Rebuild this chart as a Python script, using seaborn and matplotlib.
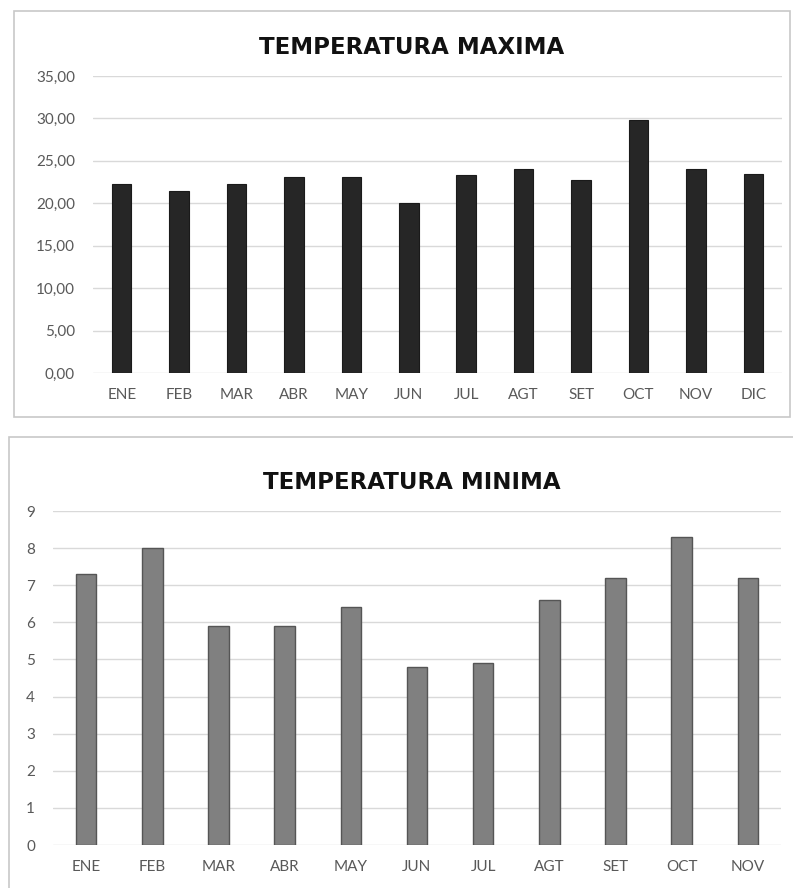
import matplotlib
matplotlib.use("Agg")
import matplotlib.pyplot as plt
import matplotlib.patches as patches
from matplotlib.ticker import FuncFormatter
import seaborn as sns
import pandas as pd

# Datos
meses_max = ['ENE', 'FEB', 'MAR', 'ABR', 'MAY', 'JUN', 'JUL', 'AGT', 'SET', 'OCT', 'NOV', 'DIC']
temp_max = [22.3, 21.4, 22.3, 23.1, 23.1, 20.0, 23.3, 24.0, 22.7, 29.8, 24.0, 23.4]

meses_min = ['ENE', 'FEB', 'MAR', 'ABR', 'MAY', 'JUN', 'JUL', 'AGT', 'SET', 'OCT', 'NOV']
temp_min = [7.3, 8.0, 5.9, 5.9, 6.4, 4.8, 4.9, 6.6, 7.2, 8.3, 7.2]

sns.set_theme(style="white")
plt.rcParams['font.family'] = ['Lato', 'DejaVu Sans']

W, H = 793, 888
fig = plt.figure(figsize=(W / 100, H / 100), dpi=100)
fig.patch.set_facecolor('white')

def fx(px):
    return px / W

def fy(py):
    return 1 - py / H

# marcos de cada grafico
for (x0, y0, x1, y1) in [(14, 11, 790, 417), (9, 437, 800, 900)]:
    fig.patches.append(patches.Rectangle((fx(x0), fy(y1)), fx(x1 - x0), (y1 - y0) / H,
                                         transform=fig.transFigure, fill=False,
                                         edgecolor='#c8c8c8', linewidth=1.2))

grid_col = '#d9d9d9'
tick_col = '#595959'


def estilo(ax, title, ty):
    ax.set_facecolor('none')
    for s in ax.spines.values():
        s.set_visible(False)
    ax.yaxis.grid(True, color=grid_col, linewidth=1)
    ax.set_axisbelow(True)
    ax.set_xlabel('')
    ax.set_ylabel('')
    ax.tick_params(axis='both', length=0, labelsize=11, colors=tick_col)
    ax.tick_params(axis='x', pad=11)
    ax.tick_params(axis='y', pad=13)
    fig.text(fx(412), fy(ty), title, ha='center', va='center', fontsize=16.5,
             fontweight='heavy', family='DejaVu Sans', color='#111111')


# TEMPERATURA MAXIMA
df_max = pd.DataFrame({'mes': meses_max, 'temp': temp_max})
ax1 = fig.add_axes([fx(93), fy(373), fx(782 - 93), (373 - 76) / H])
sns.barplot(data=df_max, x='mes', y='temp', color='#262626', saturation=1,
            width=0.34, edgecolor='#1a1a1a', linewidth=0.8, ax=ax1)
ax1.set_ylim(0, 35)
ax1.set_yticks(range(0, 36, 5))
ax1.yaxis.set_major_formatter(FuncFormatter(lambda v, p: f"{v:.2f}".replace('.', ',')))
estilo(ax1, 'TEMPERATURA MAXIMA', 47)

# TEMPERATURA MINIMA
df_min = pd.DataFrame({'mes': meses_min, 'temp': temp_min})
ax2 = fig.add_axes([fx(53), fy(845), fx(781 - 53), (845 - 511) / H])
sns.barplot(data=df_min, x='mes', y='temp', color='#808080', saturation=1,
            width=0.31, edgecolor='#555555', linewidth=1.0, ax=ax2)
ax2.set_ylim(0, 9)
ax2.set_yticks(range(0, 10))
estilo(ax2, 'TEMPERATURA MINIMA', 482)

fig.savefig('out.png', dpi=100)
